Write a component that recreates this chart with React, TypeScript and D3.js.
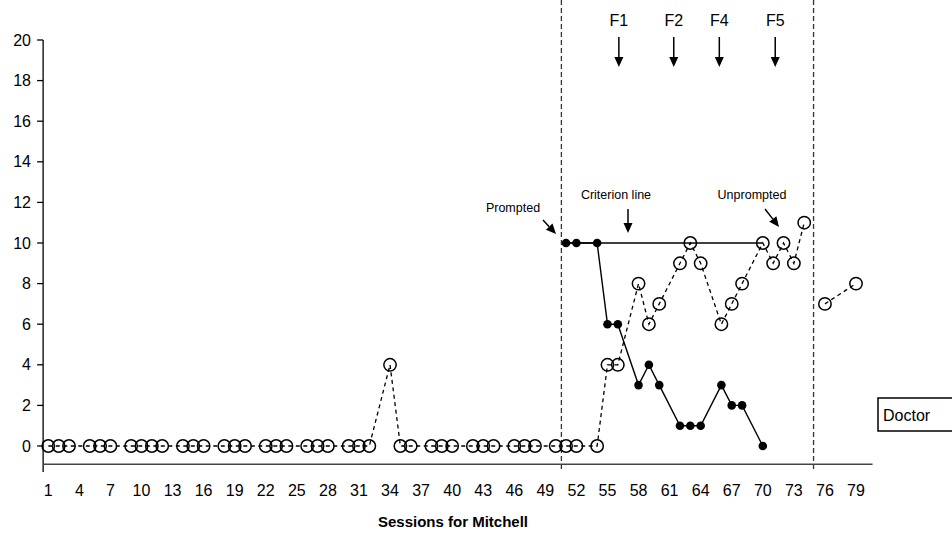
import React from 'react';
import * as d3 from 'd3';

const xTickLabels = [1, 4, 7, 10, 13, 16, 19, 22, 25, 28, 31, 34, 37, 40, 43, 46, 49, 52, 55, 58, 61, 64, 67, 70, 73, 76, 79];
const yTickLabels = [0, 2, 4, 6, 8, 10, 12, 14, 16, 18, 20];

// Unprompted (open circles, dashed) – baseline + treatment
const unpromptedSessions = [1, 2, 3, 5, 6, 7, 9, 10, 11, 12, 14, 15, 16, 18, 19, 20, 22, 23, 24, 26, 27, 28, 30, 31, 32, 34, 35, 36, 38, 39, 40, 42, 43, 44, 46, 47, 48, 50, 51, 52, 54, 55, 56, 58, 59, 60, 62, 63, 64, 66, 67, 68, 70, 71, 72, 73, 74];
const unpromptedValues = [0, 0, 0, 0, 0, 0, 0, 0, 0, 0, 0, 0, 0, 0, 0, 0, 0, 0, 0, 0, 0, 0, 0, 0, 0, 4, 0, 0, 0, 0, 0, 0, 0, 0, 0, 0, 0, 0, 0, 0, 0, 4, 4, 8, 6, 7, 9, 10, 9, 6, 7, 8, 10, 9, 10, 9, 11];
// Unprompted – generalization (Doctor)
const generalizationSessions = [76, 79];
const generalizationValues = [7, 8];
// Prompted (filled dots, solid)
const promptedSessions = [51, 52, 54, 55, 56, 58, 59, 60, 62, 63, 64, 66, 67, 68, 70];
const promptedValues = [10, 10, 10, 6, 6, 3, 4, 3, 1, 1, 1, 3, 2, 2, 0];

const criterionSessions = [51, 70];
const criterionValue = 10;
const phaseLines = [50.55, 74.9];
const fLabels = ['F1', 'F2', 'F4', 'F5'];
const fSessions = [56.1, 61.4, 65.8, 71.2];

const W = 952;
const H = 535;
const FONT = '"Liberation Sans", Arial, sans-serif';

export default function App() {
  const x = d3.scaleLinear().domain([1, 79]).range([48.3, 856]);
  const y = d3.scaleLinear().domain([0, 20]).range([446, 40]);
  const axisY = y(-0.9);
  const axisX = x(0.5);
  const axisEnd = x(80.6);

  const line = d3
    .line<[number, number]>()
    .x((d) => x(d[0]))
    .y((d) => y(d[1]));

  const unp: [number, number][] = unpromptedSessions.map((s, i) => [s, unpromptedValues[i]]);
  const gen: [number, number][] = generalizationSessions.map((s, i) => [s, generalizationValues[i]]);
  const pro: [number, number][] = promptedSessions.map((s, i) => [s, promptedValues[i]]);

  const arrowDown = (cx: number, y1: number, y2: number, key: string) => (
    <g key={key}>
      <line x1={cx} x2={cx} y1={y1} y2={y2 - 8} stroke="#000" strokeWidth={1.5} />
      <path d={`M${cx - 4.5},${y2 - 10} L${cx + 4.5},${y2 - 10} L${cx},${y2} Z`} fill="#000" />
    </g>
  );

  const arrow = (x1: number, y1: number, x2: number, y2: number, key: string) => {
    const ang = Math.atan2(y2 - y1, x2 - x1);
    const len = 10;
    const hw = 4.5;
    const bx = x2 - len * Math.cos(ang);
    const by = y2 - len * Math.sin(ang);
    const px = -Math.sin(ang) * hw;
    const py = Math.cos(ang) * hw;
    return (
      <g key={key}>
        <line x1={x1} y1={y1} x2={bx} y2={by} stroke="#000" strokeWidth={1.5} />
        <path d={`M${bx + px},${by + py} L${bx - px},${by - py} L${x2},${y2} Z`} fill="#000" />
      </g>
    );
  };

  return (
    <svg width={W} height={H} style={{ position: 'absolute', left: 0, top: 0, background: '#fff' }} fontFamily={FONT}>
      <rect x={0} y={0} width={W} height={H} fill="#fff" />
      {/* phase lines */}
      {phaseLines.map((p, i) => (
        <line key={i} x1={x(p)} x2={x(p)} y1={0} y2={470} stroke="#333" strokeWidth={1.3} strokeDasharray="5,3" />
      ))}
      {/* axes */}
      <line x1={axisX} x2={axisX} y1={y(20)} y2={472} stroke="#000" strokeWidth={1.3} />
      <line x1={axisX} x2={axisEnd} y1={axisY} y2={axisY} stroke="#444" strokeWidth={1.3} />
      {yTickLabels.map((t) => (
        <g key={t}>
          <line x1={axisX - 6} x2={axisX} y1={y(t)} y2={y(t)} stroke="#000" strokeWidth={1.3} />
          <text x={31} y={y(t)} dy="0.35em" textAnchor="end" fontSize={16}>
            {t}
          </text>
        </g>
      ))}
      {xTickLabels.map((t) => (
        <text key={t} x={x(t)} y={490} dy="0.35em" textAnchor="middle" fontSize={16}>
          {t}
        </text>
      ))}
      <text x={453} y={522} dy="0.35em" textAnchor="middle" fontSize={15} fontWeight="bold">
        Sessions for Mitchell
      </text>

      {/* criterion line */}
      <line x1={x(criterionSessions[0])} x2={x(criterionSessions[1])} y1={y(criterionValue)} y2={y(criterionValue)} stroke="#000" strokeWidth={1.3} />

      {/* unprompted dashed lines */}
      <path d={line(unp) || ''} fill="none" stroke="#000" strokeWidth={1.3} strokeDasharray="4,3.5" />
      <path d={line(gen) || ''} fill="none" stroke="#000" strokeWidth={1.3} strokeDasharray="4,3.5" />
      {/* prompted solid line */}
      <path d={line(pro) || ''} fill="none" stroke="#000" strokeWidth={1.4} />

      {unp.concat(gen).map((d, i) => (
        <circle key={'u' + i} cx={x(d[0])} cy={y(d[1])} r={6.2} fill="none" stroke="#000" strokeWidth={1.5} />
      ))}
      {pro.map((d, i) => (
        <circle key={'p' + i} cx={x(d[0])} cy={y(d[1])} r={4.3} fill="#000" />
      ))}

      {/* F labels */}
      {fLabels.map((f, i) => (
        <g key={f}>
          <text x={x(fSessions[i])} y={20} dy="0.35em" textAnchor="middle" fontSize={16}>
            {f}
          </text>
          {arrowDown(x(fSessions[i]), 37, 67, 'a' + f)}
        </g>
      ))}

      {/* annotations */}
      <text x={513} y={208} dy="0.35em" textAnchor="middle" fontSize={12.5}>
        Prompted
      </text>
      {arrow(543, 220, 556, 234, 'ap')}
      <text x={616} y={195} dy="0.35em" textAnchor="middle" fontSize={12.5}>
        Criterion line
      </text>
      {arrowDown(628, 209, 233, 'ac')}
      <text x={752} y={195} dy="0.35em" textAnchor="middle" fontSize={12.5}>
        Unprompted
      </text>
      {arrow(765, 209, 779, 227, 'au')}

      {/* Doctor box */}
      <rect x={878} y={398} width={90} height={33} fill="#fff" stroke="#000" strokeWidth={1.5} />
      <text x={883} y={415} dy="0.35em" fontSize={16}>
        Doctor
      </text>
    </svg>
  );
}
